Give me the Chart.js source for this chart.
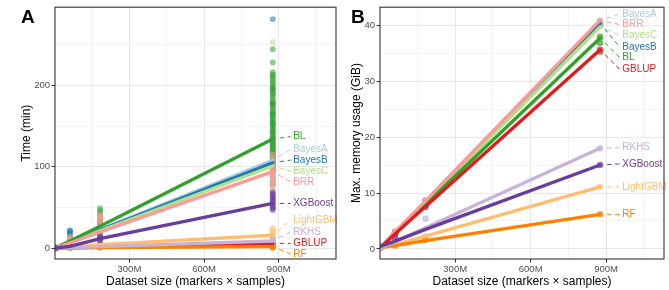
<!DOCTYPE html>
<html><head><meta charset="utf-8">
<script src="https://cdn.jsdelivr.net/npm/chart.js@4.4.1/dist/chart.umd.min.js"></script>
<style>
html,body{margin:0;padding:0;background:#fff;width:669px;height:290px;overflow:hidden;}
canvas{position:absolute;top:0;}
#cA{left:0;} #cB{left:330px;}
</style></head><body>
<canvas id="cA" width="340" height="290"></canvas>
<canvas id="cB" width="339" height="290"></canvas>
<script>
// ---------- categories ----------
const models = ['BayesA','BayesB','BayesC','BL','BRR','GBLUP','LightGBM','RF','RKHS','XGBoost'];
const colors = ['#A6CEE3','#1F78B4','#B2DF8A','#33A02C','#FB9A99','#E31A1C','#FDBF6F','#FF7F00','#CAB2D6','#6A3D9A'];
const datasetSizes = [4.5e6, 61e6, 182e6, 876e6];

// ---------- tick labels ----------
const xMajorTicks = [300e6, 600e6, 900e6];
const xMinorTicks = [150e6, 450e6, 750e6, 1050e6];
const xTickLabels = ['300M','600M','900M'];
const timeMajorTicks = [0, 100, 200];
const timeMinorTicks = [50, 150, 250];
const memMajorTicks = [0, 10, 20, 30, 40];
const memMinorTicks = [5, 15, 25, 35];

// ---------- panel A: time (min), replicates per dataset size ----------
const timeBayesA   = [[0.4,0.6],[5,7,9,11,13],[17,20,23,26,29,32],[80,84,88,91,95,99,102,105,108,111,114,118,122,127,133,139,146,154,163,175,190]];
const timeBayesB   = [[0.5,0.7],[8,11,14,17,19,21,22],[15,18,21,24,27,30],[78,83,88,93,97,101,104,107,110,114,118,123,129,136,144,153,164,178,196,281]];
const timeBayesC   = [[0.4,0.6],[4,6,8,10],[16,19,22,25,28,31],[73,78,83,88,92,96,100,103,107,111,116,121,127,135,144,156,171,190,253]];
const timeBL       = [[0.6,0.8,1.0],[6,8,9,11,12],[22,25,28,31,34,37,40,43,46,49],[96,99,103,106,108,111,114,117,119,122,125,127,130,133,135,138,141,143,146,149,151,154,157,159,162,165,167,170,173,176,178,181,184,187,190,193,196,199,202,205,208,211,213,216,228,244]];
const timeBRR      = [[0.5,0.7],[4,6,8,10,12,14],[18,21,24,27,30,33,36,38,41],[76,79,82,85,88,90,92,95,97,100,103,106,110,115]];
const timeGBLUP    = [[0.1,0.2],[0.4,0.7],[1.2,1.8],[3,4,5,6,7]];
const timeLightGBM = [[0.2,0.4],[0.8,1.3],[3,4,5,6],[12,14,16,18,20,22,25]];
const timeRF       = [[0.1],[0.2,0.4],[0.6,1],[0.5,1,1.5,2,2.5,3]];
const timeRKHS     = [[0.2],[0.4,0.6],[1,1.5,2],[7,8,9,10,11,12]];
const timeXGBoost  = [[0.3,0.5,0.8],[1.5,2,2.5,3],[8,10,12,14,15],[47,49,51,53,55,57,59,61,63,65,67,69]];
// fitted trend lines (value at each dataset size)
const timeFitBayesA   = [0.5, 7.5, 23, 108];
const timeFitBayesB   = [0.5, 7.2, 22.5, 105];
const timeFitBayesC   = [0.5, 7, 21.5, 101];
const timeFitBL       = [0.7, 9, 27, 134];
const timeFitBRR      = [0.5, 6.5, 20, 94];
const timeFitGBLUP    = [0.2, 0.6, 1.5, 6];
const timeFitLightGBM = [0.3, 1.3, 4.5, 16];
const timeFitRF       = [0.1, 0.3, 0.8, 2];
const timeFitRKHS     = [0.2, 0.6, 2, 9];
const timeFitXGBoost  = [0.4, 2.5, 12, 55];
// label anchor values (Time units)
const timeLabelValues = [121.3, 108.2, 94.7, 137, 81.6, 6.1, 34.7, -7, 20.3, 55.1];

// ---------- panel B: memory (GiB) ----------
const memBayesA   = [[0.3],[3.0],[8.6],[40.8]];
const memBayesB   = [[0.3],[3.0],[8.5],[40.1]];
const memBayesC   = [[0.3],[2.9],[8.3],[38.0,39.8]];
const memBL       = [[0.3],[2.8],[8.1],[37.8,36.8,35.2]];
const memBRR      = [[0.3],[3.1],[8.7],[40.6]];
const memGBLUP    = [[0.3],[2.7],[7.9],[35.6]];
const memLightGBM = [[0.2],[0.5],[2.2],[11.1]];
const memRF       = [[0.3],[0.7],[1.6],[6.2]];
const memRKHS     = [[0.2],[1.6],[5.4],[18.0]];
const memXGBoost  = [[0.4],[2.0],[7.5],[15.0]];
const memFitBayesA   = [0.3, 3.0, 8.5, 40.8];
const memFitBayesB   = [0.3, 3.0, 8.4, 40.3];
const memFitBayesC   = [0.3, 3.0, 8.3, 39.7];
const memFitBL       = [0.3, 2.8, 8.0, 37.7];
const memFitBRR      = [0.3, 3.1, 8.6, 40.9];
const memFitGBLUP    = [0.3, 2.7, 7.6, 35.6];
const memFitLightGBM = [0.1, 0.8, 2.3, 11.1];
const memFitRF       = [0.3, 0.6, 1.5, 6.2];
const memFitRKHS     = [0.2, 1.3, 3.8, 18.0];
const memFitXGBoost  = [0.5, 1.4, 3.5, 15.0];
const memLabelValues = [42.0, 36.1, 38.2, 34.2, 40.1, 32.1, 11.1, 6.2, 18.1, 15.2];

const timeReps = [timeBayesA,timeBayesB,timeBayesC,timeBL,timeBRR,timeGBLUP,timeLightGBM,timeRF,timeRKHS,timeXGBoost];
const timeFits = [timeFitBayesA,timeFitBayesB,timeFitBayesC,timeFitBL,timeFitBRR,timeFitGBLUP,timeFitLightGBM,timeFitRF,timeFitRKHS,timeFitXGBoost];
const memReps = [memBayesA,memBayesB,memBayesC,memBL,memBRR,memGBLUP,memLightGBM,memRF,memRKHS,memXGBoost];
const memFits = [memFitBayesA,memFitBayesB,memFitBayesC,memFitBL,memFitBRR,memFitGBLUP,memFitLightGBM,memFitRF,memFitRKHS,memFitXGBoost];

// ---------- styling ----------
const FONT = '"Liberation Sans", Arial, Helvetica, sans-serif';
const GRID_MAJOR = '#E8E8E8';
const GRID_MINOR = '#F4F4F4';

function rgba(hex, a) {
  const n = parseInt(hex.slice(1), 16);
  return `rgba(${(n>>16)&255},${(n>>8)&255},${n&255},${a})`;
}

function buildDatasets(reps, fits, alpha, radius) {
  const ds = [];
  models.forEach((m, i) => {
    const pts = [];
    reps[i].forEach((vals, j) => vals.forEach(v => pts.push({x: datasetSizes[j], y: v})));
    ds.push({type:'scatter', label:m+' runs', data:pts, showLine:false,
      pointRadius:radius, pointBackgroundColor:rgba(colors[i], alpha), pointBorderWidth:0,
      order: 20 + (models.length - 1 - i)});
  });
  models.forEach((m, i) => {
    ds.push({type:'line', label:m, data: datasetSizes.map((x, j) => ({x, y: fits[i][j]})),
      showLine:true, borderColor:colors[i], borderWidth:3.3, pointRadius:0, fill:false, tension:0,
      borderCapStyle:'round', order: models.length - 1 - i});
  });
  return ds;
}

function makeScales(cfg) {
  const xAll = [...xMinorTicks, ...xMajorTicks].sort((a,b)=>a-b);
  const yAll = [...cfg.yMinor, ...cfg.yMajor].sort((a,b)=>a-b);
  return {
    x: {
      type:'linear', min:1e6, max:1130e6,
      afterBuildTicks: s => { s.ticks = xAll.map(v => ({value:v})); },
      afterFit: s => { s.height = 31; },
      border:{display:false},
      grid:{
        color: c => (c.tick && xMajorTicks.includes(c.tick.value)) ? GRID_MAJOR : GRID_MINOR,
        tickColor: c => (c.tick && xMajorTicks.includes(c.tick.value)) ? '#333333' : 'rgba(0,0,0,0)',
        lineWidth:1, tickLength:3.5, drawTicks:true
      },
      ticks:{autoSkip:false, maxRotation:0, minRotation:0, padding:1.5, color:'#4D4D4D',
        font:{family:FONT, size:9.5},
        callback: v => { const k = xMajorTicks.indexOf(v); return k >= 0 ? xTickLabels[k] : ''; }},
      title:{display:true, text:'Dataset size (markers × samples)', color:'#000',
        font:{family:FONT, size:12}, padding:{top:0, bottom:1}}
    },
    y: {
      type:'linear', min:cfg.yMin, max:cfg.yMax,
      afterBuildTicks: s => { s.ticks = yAll.map(v => ({value:v})); },
      afterFit: s => { s.width = cfg.yWidth; },
      border:{display:false},
      grid:{
        color: c => (c.tick && cfg.yMajor.includes(c.tick.value)) ? GRID_MAJOR : GRID_MINOR,
        tickColor: c => (c.tick && cfg.yMajor.includes(c.tick.value)) ? '#333333' : 'rgba(0,0,0,0)',
        lineWidth:1, tickLength:3.5, drawTicks:true
      },
      ticks:{autoSkip:false, padding:1.5, color:'#4D4D4D', font:{family:FONT, size:9.5},
        callback: v => cfg.yMajor.includes(v) ? String(v) : ''},
      title:{display:true, text:cfg.yTitle, color:'#000', font:{family:FONT, size:12},
        padding:{top:19.5, bottom:0}}
    }
  };
}

function panelPlugin(letter, fits, labelValues, labelX) {
  return {
    id: 'panel' + letter,
    afterDatasetsDraw(chart) {
      const {ctx, scales:{x, y}} = chart;
      ctx.save();
      ctx.font = '10px ' + FONT;
      ctx.textBaseline = 'middle';
      ctx.textAlign = 'left';
      models.forEach((m, i) => {
        const last = datasetSizes.length - 1;
        const px = x.getPixelForValue(datasetSizes[last]);
        const py = y.getPixelForValue(fits[i][last]);
        const lx = x.getPixelForValue(labelX);
        const ly = y.getPixelForValue(labelValues[i]);
        const ex = lx - 2.5, ey = ly;
        const dx = ex - px, dy = ey - py, d = Math.hypot(dx, dy);
        const sx = px + dx / d * 7, sy = py + dy / d * 7;
        ctx.strokeStyle = colors[i];
        ctx.lineWidth = 1;
        ctx.setLineDash([4.5, 3.5]);
        ctx.beginPath(); ctx.moveTo(sx, sy); ctx.lineTo(ex, ey); ctx.stroke();
        ctx.setLineDash([]);
        ctx.fillStyle = colors[i];
        ctx.fillText(m, lx, ly);
      });
      ctx.restore();
    },
    afterDraw(chart) {
      const {ctx, chartArea:a} = chart;
      ctx.save();
      ctx.strokeStyle = '#333333';
      ctx.lineWidth = 1.1;
      ctx.strokeRect(a.left, a.top, a.right - a.left, a.bottom - a.top);
      ctx.fillStyle = '#000';
      ctx.font = 'bold 19px ' + FONT;
      ctx.textBaseline = 'alphabetic';
      ctx.textAlign = 'left';
      ctx.fillText(letter, 21, 23);
      ctx.restore();
    }
  };
}

const common = {
  responsive:false, animation:false, events:[],
  plugins:{legend:{display:false}, tooltip:{enabled:false}}
};

new Chart(document.getElementById('cA'), {
  type:'scatter',
  data:{datasets: buildDatasets(timeReps, timeFits, 0.55, 3)},
  options: Object.assign({}, common, {
    layout:{padding:{top:7, right:4, left:0, bottom:0}},
    scales: makeScales({yMin:-13.1, yMax:295.7, yMajor:timeMajorTicks, yMinor:timeMinorTicks, yWidth:55, yTitle:'Time (min)'})
  }),
  plugins:[panelPlugin('A', timeFits, timeLabelValues, 958e6)]
});

new Chart(document.getElementById('cB'), {
  type:'scatter',
  data:{datasets: buildDatasets(memReps, memFits, 0.7, 3.3)},
  options: Object.assign({}, common, {
    layout:{padding:{top:7, right:5, left:0, bottom:0}},
    scales: makeScales({yMin:-1.79, yMax:43.2, yMajor:memMajorTicks, yMinor:memMinorTicks, yWidth:50, yTitle:'Max. memory usage (GiB)'})
  }),
  plugins:[panelPlugin('B', memFits, memLabelValues, 964e6)]
});
</script>
</body></html>
